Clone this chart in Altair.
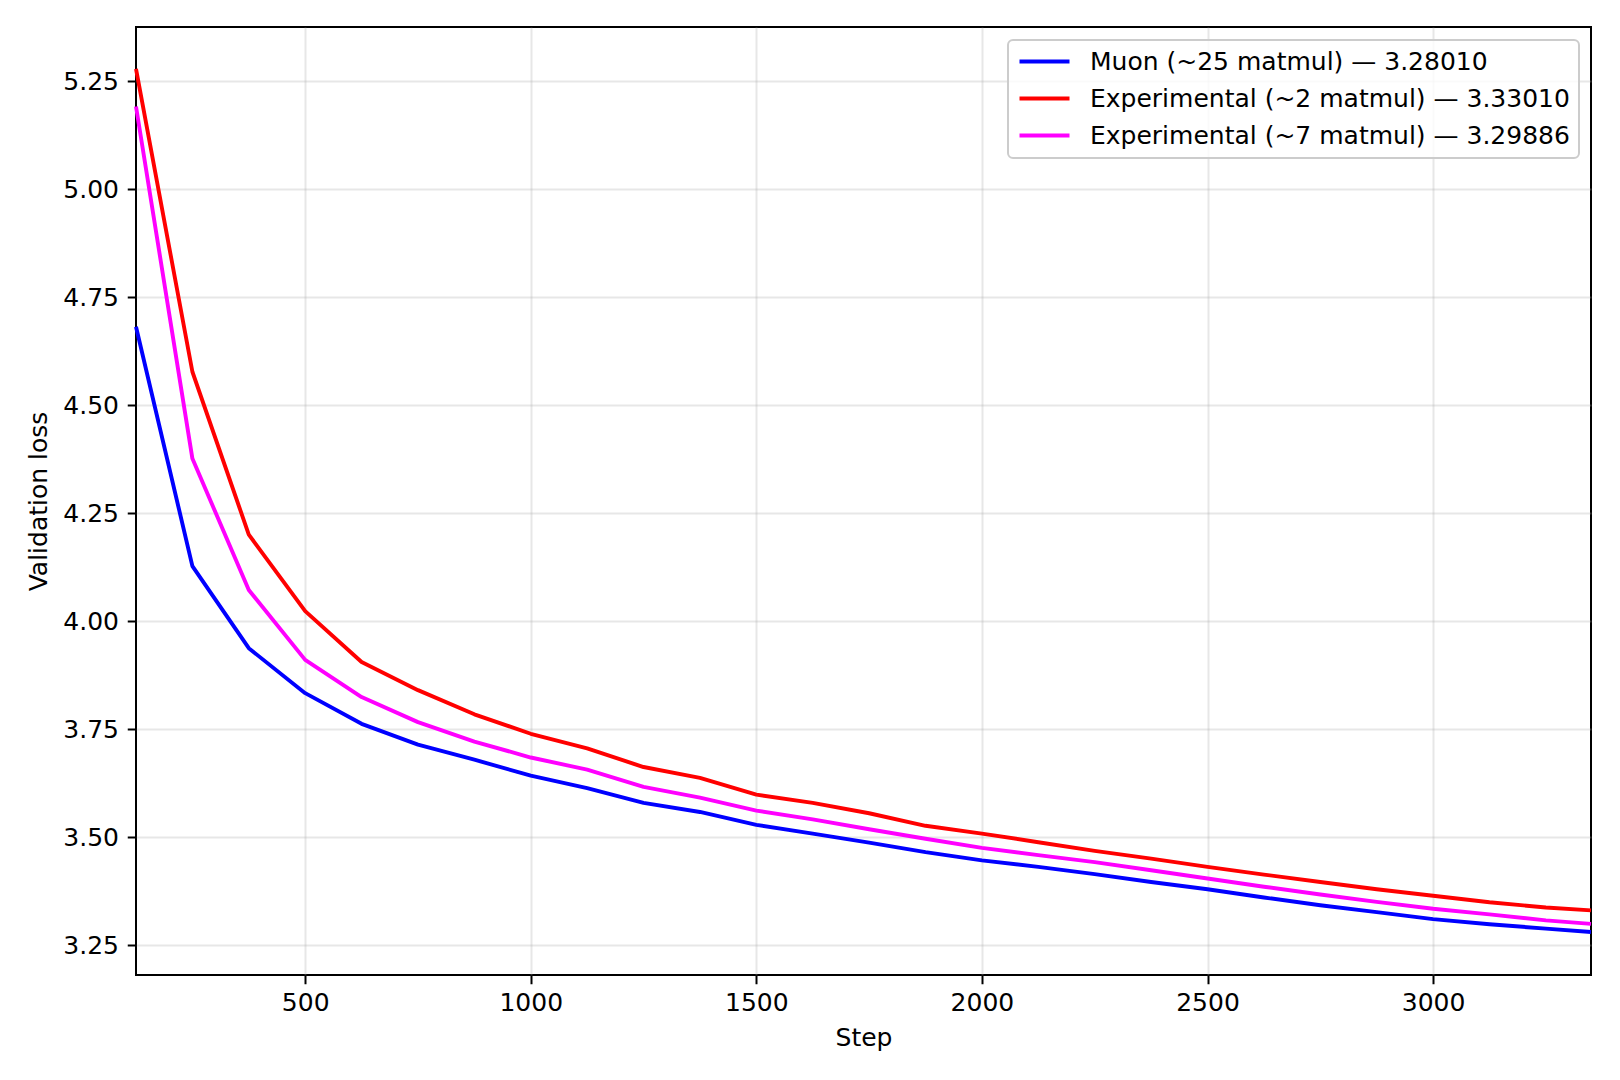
import altair as alt
import pandas as pd

steps = [125, 250, 375, 500, 625, 750, 875, 1000, 1125, 1250, 1375, 1500, 1625, 1750,
         1875, 2000, 2125, 2250, 2375, 2500, 2625, 2750, 2875, 3000, 3125, 3250, 3350]

muon = [4.681, 4.127, 3.937, 3.833, 3.762, 3.714, 3.679, 3.642, 3.613, 3.579, 3.558, 3.528,
        3.508, 3.487, 3.465, 3.446, 3.431, 3.414, 3.396, 3.379, 3.360, 3.342, 3.326, 3.310,
        3.298, 3.288, 3.2801]

exp2 = [5.278, 4.577, 4.200, 4.023, 3.905, 3.840, 3.784, 3.739, 3.705, 3.662, 3.637, 3.598,
        3.579, 3.555, 3.526, 3.508, 3.488, 3.468, 3.450, 3.431, 3.413, 3.396, 3.379, 3.364,
        3.349, 3.337, 3.3301]

exp7 = [5.191, 4.376, 4.072, 3.910, 3.824, 3.766, 3.721, 3.684, 3.656, 3.616, 3.591, 3.561,
        3.541, 3.518, 3.496, 3.475, 3.458, 3.442, 3.423, 3.404, 3.385, 3.367, 3.350, 3.334,
        3.321, 3.307, 3.29886]

series_names = ["Muon (~25 matmul) \u2014 3.28010",
                "Experimental (~2 matmul) \u2014 3.33010",
                "Experimental (~7 matmul) \u2014 3.29886"]
series_colors = ["#0000ff", "#ff0000", "#ff00ff"]

x_ticks = [500, 1000, 1500, 2000, 2500, 3000]
y_ticks = [3.25, 3.50, 3.75, 4.00, 4.25, 4.50, 4.75, 5.00, 5.25]

rows = []
for order, (name, vals) in enumerate(zip(series_names, [muon, exp2, exp7])):
    for s, v in zip(steps, vals):
        rows.append({"step": s, "loss": v, "series": name, "order": order})
df = pd.DataFrame(rows)

FONT = "DejaVu Sans"

chart = alt.Chart(df).mark_line(strokeWidth=3.9, strokeJoin="round", strokeCap="butt").encode(
    x=alt.X("step:Q", title="Step",
            scale=alt.Scale(domain=[125, 3350], nice=False, zero=False),
            axis=alt.Axis(values=x_ticks, format="d", titlePadding=10, labelPadding=7)),
    y=alt.Y("loss:Q", title="Validation loss",
            scale=alt.Scale(domain=[3.1806, 5.375], nice=False, zero=False),
            axis=alt.Axis(values=y_ticks, format=".2f", titlePadding=11)),
    color=alt.Color("series:N",
                    scale=alt.Scale(domain=series_names, range=series_colors),
                    legend=alt.Legend(title=None, orient="none", legendX=872, legendY=13,
                                      symbolType="M-2.5,0H2.5", symbolSize=400,
                                      symbolStrokeWidth=3.9, symbolOffset=15,
                                      labelOffset=33, rowPadding=11,
                                      labelFont=FONT, labelFontSize=25, labelColor="black",
                                      labelLimit=1000,
                                      padding=9, fillColor="rgba(255,255,255,0.8)",
                                      strokeColor="#cccccc", cornerRadius=5)),
    order=alt.Order("order:Q"),
    detail="series:N",
).properties(
    width=1455,
    height=948,
    autosize=alt.AutoSizeParams(type="none"),
    padding={"left": 128, "top": 19, "right": 20, "bottom": 90},
).configure_view(
    stroke="black", strokeWidth=2
).configure_axis(
    domain=False,
    grid=True, gridColor="#b0b0b0", gridOpacity=0.3, gridWidth=2,
    ticks=True, tickColor="black", tickSize=8.75, tickWidth=2,
    labelFont=FONT, labelFontSize=25, labelColor="black", labelPadding=8.75,
    titleFont=FONT, titleFontSize=25, titleFontWeight="normal", titleColor="black",
).configure_legend(
    strokeWidth=2
)

chart.save("out.html", embed_options={"renderer": "svg", "actions": False})
